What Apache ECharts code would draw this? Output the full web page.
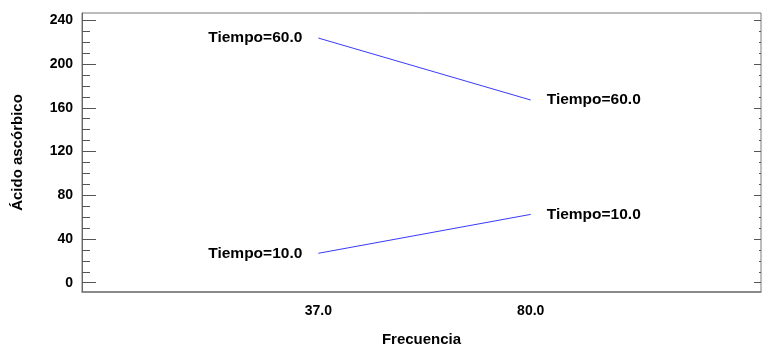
<!DOCTYPE html>
<html>
<head>
<meta charset="utf-8">
<script src="https://cdn.jsdelivr.net/npm/echarts@6/dist/echarts.min.js"></script>
<style>
html,body{margin:0;padding:0;background:#fff;}
#c{width:762px;height:348px;}
</style>
</head>
<body>
<div id="c"></div>
<script>
// Data
const frecuencia = [37.0, 80.0];
const tiempoLevels = ["Tiempo=60.0", "Tiempo=10.0"];
const acido60 = [223.8, 167.1];
const acido10 = [26.9, 62.5];
const yMajorTicks = [0, 40, 80, 120, 160, 200, 240];
const yMinorTicks = [10, 20, 30, 50, 60, 70, 90, 100, 110, 130, 140, 150, 170, 180, 190, 210, 220, 230];
const xTickLabels = [37.0, 80.0];

const FONT = "'Liberation Sans', Arial, sans-serif";
const lineColor = '#3a3aff';

function mkData(xs, ys) {
  return xs.map((x, i) => ({
    value: [x, ys[i]],
    label: {
      show: true,
      position: i === 0 ? 'left' : 'right',
      distance: 16
    }
  }));
}

const values = [acido60, acido10];
const series = tiempoLevels.map((name, k) => ({
  name: name,
  type: 'line',
  data: mkData(frecuencia, values[k]),
  symbol: 'circle',
  symbolSize: 0,
  showSymbol: true,
  lineStyle: { color: lineColor, width: 1 },
  itemStyle: { color: lineColor },
  label: {
    formatter: name,
    color: '#000',
    fontFamily: FONT,
    fontSize: 15.5,
    fontWeight: 'bold'
  },
  emphasis: { disabled: true },
  silent: true,
  animation: false
}));

const yMin = -8.5, yMax = 246.7;

function yAx(pos, ticks, len, labels, extra) {
  return Object.assign({
    type: 'value',
    position: pos,
    min: yMin,
    max: yMax,
    splitLine: { show: false },
    axisLine: { show: false, onZero: false },
    axisTick: { show: true, inside: true, length: len, customValues: ticks, lineStyle: { color: '#555', width: 1 } },
    axisLabel: labels ? {
      show: true, customValues: ticks, color: '#000', fontFamily: FONT, fontSize: 14, fontWeight: 'bold', margin: 9,
      formatter: v => String(v)
    } : { show: false }
  }, extra || {});
}

const chart = echarts.init(document.getElementById('c'), null, { renderer: 'canvas' });
chart.setOption({
  animation: false,
  backgroundColor: '#fff',
  grid: {
    left: 82, right: 1, top: 13, bottom: 56,
    containLabel: false,
    outerBoundsMode: 'none',
    show: true, borderColor: '#7a7a7a', borderWidth: 1, backgroundColor: 'transparent'
  },
  xAxis: {
    type: 'value',
    min: -10.84,
    max: 126.62,
    splitLine: { show: false },
    axisLine: { show: true, onZero: false, lineStyle: { color: '#7a7a7a', width: 1.5 } },
    axisTick: { show: false },
    axisLabel: {
      customValues: xTickLabels,
      formatter: v => v.toFixed(1),
      color: '#000', fontFamily: FONT, fontSize: 14, fontWeight: 'bold', margin: 12
    },
    name: 'Frecuencia',
    nameLocation: 'middle',
    nameGap: 40,
    nameTextStyle: { color: '#000', fontFamily: FONT, fontSize: 15, fontWeight: 'bold' }
  },
  yAxis: [
    yAx('left', yMajorTicks, 14, true, {
      axisLine: { show: true, onZero: false, lineStyle: { color: '#666', width: 1 } },
      name: 'Ácido ascórbico',
      nameLocation: 'middle',
      nameGap: 57,
      nameTextStyle: { color: '#000', fontFamily: FONT, fontSize: 15, fontWeight: 'bold' }
    }),
    yAx('left', yMinorTicks, 8, false),
    yAx('right', yMajorTicks, 7, false),
    yAx('right', yMinorTicks, 2, false)
  ],
  series: series
});
</script>
</body>
</html>
